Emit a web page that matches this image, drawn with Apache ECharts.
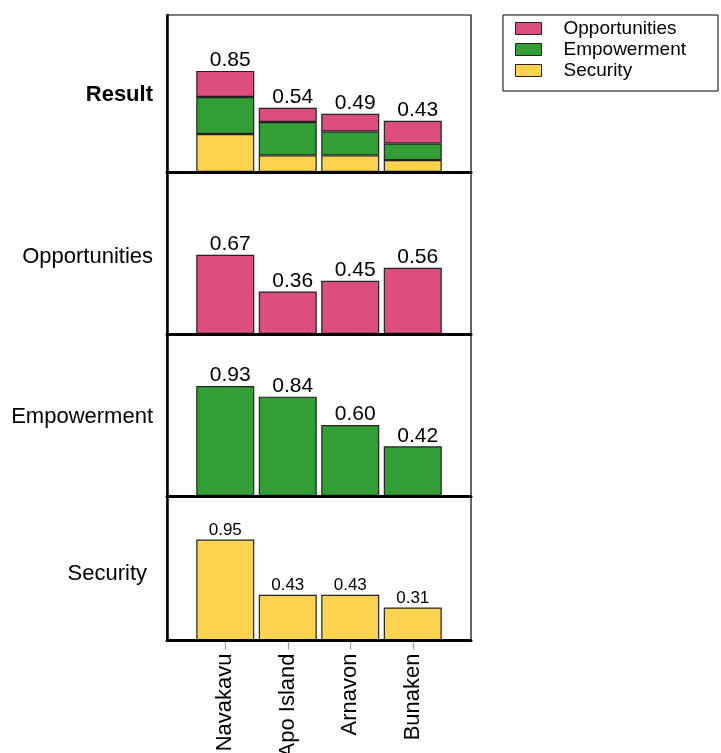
<!DOCTYPE html>
<html>
<head>
<meta charset="utf-8">
<script src="https://cdn.jsdelivr.net/npm/echarts@6/dist/echarts.min.js"></script>
<style>html,body{margin:0;padding:0;background:#fff;}#c{width:721px;height:753px;}</style>
</head>
<body>
<div id="c"></div>
<script>
// ---- data ----
var categories = ['Navakavu', 'Apo Island', 'Arnavon', 'Bunaken'];
var panelNames = ['Result', 'Opportunities', 'Empowerment', 'Security'];
var opportunities = [0.67, 0.36, 0.45, 0.56];
var empowerment = [0.93, 0.84, 0.60, 0.42];
var security = [0.95, 0.43, 0.43, 0.31];
var resultTotals = [0.85, 0.54, 0.49, 0.43];
var resultSecurity = [0.32, 0.14, 0.14, 0.10];
var resultEmpowerment = [0.31, 0.28, 0.20, 0.14];
var resultOpportunities = [0.22, 0.12, 0.15, 0.19];
var legendNames = ['Opportunities', 'Empowerment', 'Security'];

// ---- styles / layout ----
var COL = {Opportunities: '#DB4E7D', Empowerment: '#339E35', Security: '#FCD34E'};
var FONT = '"Liberation Sans", Arial, Helvetica, sans-serif';
var panels = [
  {top: 15, height: 157, yMax: 1.32, shift: 1.5},
  {top: 172, height: 162, yMax: 1.37, shift: 3.5},
  {top: 334, height: 162, yMax: 1.37, shift: 2},
  {top: 496, height: 144.5, yMax: 1.36, shift: 6}
];
var nameGaps = [14, 14, 14, 20];

var grid = [], xAxis = [], yAxis = [], series = [];
panels.forEach(function (p, i) {
  var last = i === panels.length - 1;
  // frame grid
  grid.push({left: 167, right: 250, top: p.top, height: p.height, show: true,
    borderColor: '#000', borderWidth: 1.2, backgroundColor: 'transparent',
    containLabel: false, outerBoundsMode: 'none'});
  // data grid
  grid.push({left: 194, right: 277, top: p.top, height: p.height,
    containLabel: false, outerBoundsMode: 'none'});
  xAxis.push({type: 'value', gridIndex: 2 * i, min: 0, max: 1, z: 5,
    axisLine: {show: true, lineStyle: {color: '#000', width: 3}},
    axisTick: {show: false}, axisLabel: {show: false}, splitLine: {show: false}});
  yAxis.push({type: 'value', gridIndex: 2 * i, min: 0, max: 1, z: 5,
    axisLine: {show: true, lineStyle: {color: '#000', width: 2.5}},
    axisTick: {show: false}, axisLabel: {show: false}, splitLine: {show: false},
    name: '{n|' + panelNames[i] + '}', nameLocation: 'middle', nameRotate: 0, nameGap: nameGaps[i],
    nameTextStyle: {fontSize: 22, color: '#000', fontFamily: FONT,
      rich: {n: {fontSize: 22, color: '#000', fontFamily: FONT,
        fontWeight: i === 0 ? 'bold' : 'normal', padding: [2 * p.shift, 0, 0, 0]}}}});
  xAxis.push({type: 'category', gridIndex: 2 * i + 1, data: categories,
    axisLine: {show: false},
    axisTick: {show: last, alignWithLabel: true, length: 9, lineStyle: {color: '#999', width: 1.2}},
    axisLabel: {show: last, rotate: 90, fontSize: 22, margin: 13, color: '#000', fontFamily: FONT},
    splitLine: {show: false}});
  yAxis.push({type: 'value', gridIndex: 2 * i + 1, min: 0, max: p.yMax, show: false,
    splitLine: {show: false}});
});

function barStyle(name) {
  return {color: COL[name], borderColor: '#222', borderWidth: 1.2};
}
function valLabel(size, offX, dist, arr) {
  return {show: true, position: 'top', distance: dist, offset: [offX, 0], fontSize: size,
    color: '#000', fontFamily: FONT,
    formatter: function (d) { return (arr ? arr[d.dataIndex] : d.value).toFixed(2); }};
}

// panel 0 : stacked result
series.push({name: 'Security', type: 'bar', xAxisIndex: 1, yAxisIndex: 1, stack: 'r',
  barWidth: 58, data: resultSecurity, itemStyle: barStyle('Security')});
series.push({name: 'Empowerment', type: 'bar', xAxisIndex: 1, yAxisIndex: 1, stack: 'r',
  barWidth: 58, data: resultEmpowerment, itemStyle: barStyle('Empowerment')});
series.push({name: 'Opportunities', type: 'bar', xAxisIndex: 1, yAxisIndex: 1, stack: 'r',
  barWidth: 58, data: resultOpportunities, itemStyle: barStyle('Opportunities'),
  label: valLabel(21, 5, 0, resultTotals)});
// panel 1..3
series.push({name: 'Opportunities', type: 'bar', xAxisIndex: 3, yAxisIndex: 3,
  barWidth: 58, data: opportunities, itemStyle: barStyle('Opportunities'),
  label: valLabel(21, 5, 0)});
series.push({name: 'Empowerment', type: 'bar', xAxisIndex: 5, yAxisIndex: 5,
  barWidth: 58, data: empowerment, itemStyle: barStyle('Empowerment'),
  label: valLabel(21, 5, 0)});
series.push({name: 'Security', type: 'bar', xAxisIndex: 7, yAxisIndex: 7,
  barWidth: 58, data: security, itemStyle: barStyle('Security'),
  label: valLabel(17, 0, 1)});

var chart = echarts.init(document.getElementById('c'), null, {renderer: 'canvas'});
chart.setOption({
  animation: false,
  backgroundColor: '#fff',
  textStyle: {fontFamily: FONT},
  legend: {
    data: legendNames, orient: 'vertical', left: 503, top: 15,
    icon: 'rect', itemWidth: 26, itemHeight: 12, itemGap: 0,
    padding: [3, 32, 10, 12],
    borderColor: '#000', borderWidth: 1,
    itemStyle: {borderColor: '#222', borderWidth: 1},
    textStyle: {fontSize: 19, color: '#000', lineHeight: 21, padding: [0, 0, 0, 17], fontFamily: FONT}
  },
  grid: grid, xAxis: xAxis, yAxis: yAxis, series: series
});
</script>
</body>
</html>
